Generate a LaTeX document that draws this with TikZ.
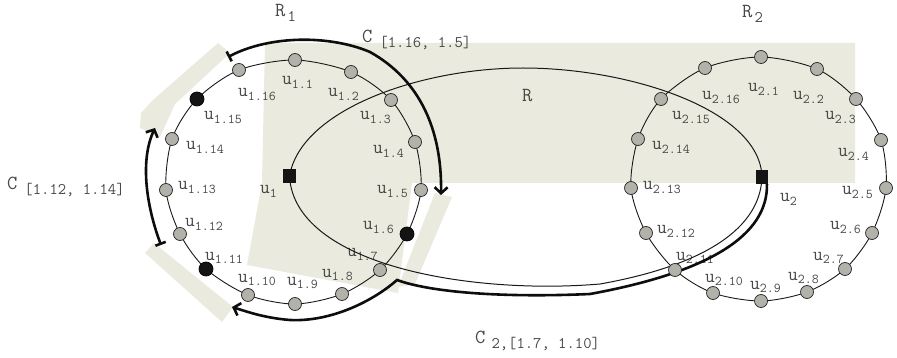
\documentclass[tikz,border=0pt]{standalone}
\usepackage{fontspec}
\usetikzlibrary{arrows.meta}
\definecolor{beige}{RGB}{234,234,222}
\definecolor{nodegrey}{RGB}{178,178,170}
\definecolor{labgrey}{RGB}{72,72,72}
\newcommand\ulab[1]{{\fontsize{19}{19}\selectfont u}\raisebox{-3.5pt}{\fontsize{13.5}{13.5}\selectfont #1}}
\newcommand\clab[3]{{\fontsize{20}{20}\selectfont #1}\kern#3\raisebox{-5pt}{\fontsize{16.2}{16.2}\selectfont #2}}
\pgfdeclarelayer{back}
\pgfdeclarelayer{mid}
\pgfsetlayers{back,mid,main}
\begin{document}
\begin{tikzpicture}[x=1pt,y=-1pt,
  gnode/.style={circle,draw=black!85,line width=0.7pt,fill=nodegrey,minimum size=13pt,inner sep=0pt},
  bnode/.style={circle,draw=black,line width=0.7pt,fill=black!92,minimum size=14pt,inner sep=0pt},
  sqnode/.style={rectangle,fill=black!92,minimum width=12.5pt,minimum height=14pt,inner sep=0pt},
  lab/.style={anchor=base west,inner sep=0pt,text=labgrey,font=\ttfamily},
  ring/.style={draw=black!90,line width=0.9pt},
  rline/.style={draw=black!90,line width=1pt},
  carc/.style={draw=black!95,line width=2.6pt},
  tipend/.style={-{Straight Barb[length=6pt,width=13pt]}},
  tipboth/.style={{Bar[width=11pt]}-{Straight Barb[length=6pt,width=13pt]}}
]
\useasboundingbox (0,0) rectangle (897,358);

% ---- nodes of R1
\node[gnode] (u1-1)  at (295,60) {};
\node[gnode] (u1-2)  at (351,72) {};
\node[gnode] (u1-3)  at (391,100) {};
\node[gnode] (u1-4)  at (415,142) {};
\node[gnode] (u1-5)  at (421,190) {};
\node[bnode] (u1-6)  at (407,234) {};
\node[gnode] (u1-7)  at (380,270) {};
\node[gnode] (u1-8)  at (342,294) {};
\node[gnode] (u1-9)  at (295,304) {};
\node[gnode] (u1-10) at (248,295) {};
\node[bnode] (u1-11) at (206,269) {};
\node[gnode] (u1-12) at (180,234) {};
\node[gnode] (u1-13) at (166,190) {};
\node[gnode] (u1-14) at (172,139) {};
\node[bnode] (u1-15) at (197,99) {};
\node[gnode] (u1-16) at (239,70) {};
% ---- nodes of R2
\node[gnode] (u2-1)  at (761,57) {};
\node[gnode] (u2-2)  at (817,69) {};
\node[gnode] (u2-3)  at (856,99) {};
\node[gnode] (u2-4)  at (881,140) {};
\node[gnode] (u2-5)  at (886,188) {};
\node[gnode] (u2-6)  at (872,233) {};
\node[gnode] (u2-7)  at (845,269) {};
\node[gnode] (u2-8)  at (807,292) {};
\node[gnode] (u2-9)  at (761,301) {};
\node[gnode] (u2-10) at (713,293) {};
\node[gnode] (u2-11) at (675,270) {};
\node[gnode] (u2-12) at (646,233) {};
\node[gnode] (u2-13) at (631,188) {};
\node[gnode] (u2-14) at (638,139) {};
\node[gnode] (u2-15) at (661,99) {};
\node[gnode] (u2-16) at (705,68) {};
% ---- square nodes
\node[sqnode] (u1) at (289.5,176.5) {};
\node[sqnode] (u2) at (762,177) {};

% ---- free ends of the path annotations
\coordinate (c1s) at (228,57);
\coordinate (c1e) at (441,195);
\coordinate (c2s) at (161,245);
\coordinate (c2e) at (155,128);
\coordinate (c3m) at (397,280);
\coordinate (c3e) at (232,307);

\begin{pgfonlayer}{back}
  \fill[beige] (265,43) -- (855,43) -- (855,183) -- (412,183) -- (398,293)
     -- (247,265) -- (262,183) -- cycle;
  \fill[beige] (435,193) -- (452,197) -- (415,284) -- (398,287) -- cycle;
  \fill[beige] (218,43) -- (230,53) -- (175,104) -- (160,137) -- (140,128)
     -- (141,113) -- (153,100) -- cycle;
  \fill[beige] (145,253) -- (154,243) -- (233,307) -- (222,322) -- cycle;
  % labels
  \node[lab] (l1-1)  at (282,85)  {\ulab{1.1}};
  \node[lab] (l1-2)  at (328,97)  {\ulab{1.2}};
  \node[lab] (l1-3)  at (360,120) {\ulab{1.3}};
  \node[lab] (l1-4)  at (373,154) {\ulab{1.4}};
  \node[lab] (l1-5)  at (377,194) {\ulab{1.5}};
  \node[lab] (l1-6)  at (363,230) {\ulab{1.6}};
  \node[lab] (l1-7)  at (347,257) {\ulab{1.7}};
  \node[lab] (l1-8)  at (322,277) {\ulab{1.8}};
  \node[lab] (l1-9)  at (287,285) {\ulab{1.9}};
  \node[lab] (l1-10) at (238,282) {\ulab{1.10}};
  \node[lab] (l1-11) at (205,260) {\ulab{1.11}};
  \node[lab] (l1-12) at (185,227) {\ulab{1.12}};
  \node[lab] (l1-13) at (178,190) {\ulab{1.13}};
  \node[lab] (l1-14) at (186,150) {\ulab{1.14}};
  \node[lab] (l1-15) at (204,120) {\ulab{1.15}};
  \node[lab] (l1-16) at (238,97)  {\ulab{1.16}};
  \node[lab] (l2-1)  at (748,92)  {\ulab{2.1}};
  \node[lab] (l2-2)  at (793,100) {\ulab{2.2}};
  \node[lab] (l2-3)  at (825,120) {\ulab{2.3}};
  \node[lab] (l2-4)  at (838,157) {\ulab{2.4}};
  \node[lab] (l2-5)  at (842,195) {\ulab{2.5}};
  \node[lab] (l2-6)  at (830,230) {\ulab{2.6}};
  \node[lab] (l2-7)  at (813,260) {\ulab{2.7}};
  \node[lab] (l2-8)  at (788,280) {\ulab{2.8}};
  \node[lab] (l2-9)  at (750,289) {\ulab{2.9}};
  \node[lab] (l2-10) at (705,282) {\ulab{2.10}};
  \node[lab] (l2-11) at (676,260) {\ulab{2.11}};
  \node[lab] (l2-12) at (657,234) {\ulab{2.12}};
  \node[lab] (l2-13) at (643,190) {\ulab{2.13}};
  \node[lab] (l2-14) at (652,150) {\ulab{2.14}};
  \node[lab] (l2-15) at (672,120) {\ulab{2.15}};
  \node[lab] (l2-16) at (702,100) {\ulab{2.16}};
  \node[lab] (lu1) at (260,194) {\ulab{1}};
  \node[lab] (lu2) at (780,202) {\ulab{2}};
  \node[lab] (lR1) at (275,17)  {\clab{R}{1}{2pt}};
  \node[lab] (lR2) at (742,18)  {\clab{R}{2}{2pt}};
  \node[lab] (lR)  at (522,102) {{\fontsize{20}{20}\selectfont R}};
  \node[lab] (lC1) at (362,43)  {\clab{C}{[1.16, 1.5]}{7pt}};
  \node[lab] (lC2) at (7,190)   {\clab{C}{[1.12, 1.14]}{7pt}};
  \node[lab] (lC3) at (475,343) {\clab{C}{2,[1.7, 1.10]}{6pt}};
\end{pgfonlayer}

\begin{pgfonlayer}{mid}
  % rings
  \draw[ring] plot[smooth cycle,tension=0.5] coordinates {
    (u1-1.center) (u1-2.center) (u1-3.center) (u1-4.center) (u1-5.center)
    (u1-6.center) (u1-7.center) (u1-8.center) (u1-9.center) (u1-10.center)
    (u1-11.center) (u1-12.center) (u1-13.center) (u1-14.center) (u1-15.center)
    (u1-16.center)};
  \draw[ring] plot[smooth cycle,tension=0.5] coordinates {
    (u2-1.center) (u2-2.center) (u2-3.center) (u2-4.center) (u2-5.center)
    (u2-6.center) (u2-7.center) (u2-8.center) (u2-9.center) (u2-10.center)
    (u2-11.center) (u2-12.center) (u2-13.center) (u2-14.center) (u2-15.center)
    (u2-16.center)};
  % region R
  \draw[rline] (u1.center) .. controls (300,110) and (420,68) .. (523,68)
     .. controls (630,68) and (760,110) .. (u2.center)
     .. controls (760,235) and (690,268) .. (600,284)
     .. controls (470,295) and (295,265) .. (u1.center);
  % path annotations
  \draw[carc,tipboth] (c1s) .. controls (270,35) and (330,35) .. (370,52)
     .. controls (420,80) and (442,130) .. (c1e);
  \draw[carc,tipboth] (c2s) .. controls (146,205) and (140,160) .. (c2e);
  \draw[carc,tipend,line join=miter] ([xshift=-1.5pt]u2.south east)
     .. controls (768,235) and (710,272) .. (590,294)
     .. controls (500,298) and (430,292) .. (c3m)
     .. controls (372,302) and (330,322) .. (290,320)
     .. controls (265,318) and (248,312) .. (c3e);
\end{pgfonlayer}
\end{tikzpicture}
\end{document}
